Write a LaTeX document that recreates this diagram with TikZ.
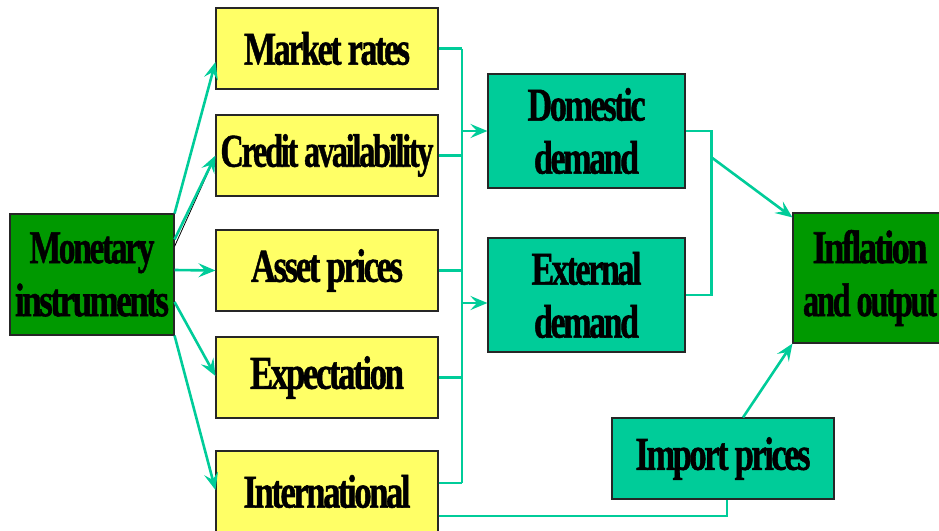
\documentclass[tikz,border=0pt]{standalone}
\usepackage{fontspec}
\usepackage{graphicx}
\setmainfont{Liberation Serif}
\newfontfamily\dtf[LetterSpace=-7,BoldFeatures={FakeBold=1.2}]{Liberation Serif}
\usetikzlibrary{arrows.meta,calc}
\definecolor{tealc}{HTML}{00CC99}
\definecolor{yel}{HTML}{FFFF66}
\definecolor{dgreen}{HTML}{009900}
\newcommand{\fw}[2]{\resizebox{#1pt}{\height}{\fontsize{47}{52}\selectfont\dtf\bfseries #2}}
\begin{document}
\begin{tikzpicture}[x=1pt,y=-1pt,
  box/.style={draw=black!85, line width=1.1pt, inner sep=0pt, align=center, font=\fontsize{46}{53}\selectfont},
  ybox/.style={box, fill=yel, minimum width=222pt, minimum height=81pt},
  tbox/.style={box, fill=tealc},
  gbox/.style={box, fill=dgreen},
  conn/.style={draw=tealc, line width=2.6pt},
  arr/.style={conn, -{Stealth[length=17pt,width=14pt,inset=6.5pt]}}]
\useasboundingbox (0,0) rectangle (939,530);
\clip (0,0) rectangle (939,530);

\node[gbox, minimum width=164pt, minimum height=121pt] (mon) at (92,274.5) {\fw{125}{Monetary}\\\fw{154}{instruments}};

\node[ybox] (mr) at (327,48.5) {\fw{166}{Market rates}};
\node[ybox] (ca) at (327,155.5) {\fw{213}{Credit availability}};
\node[ybox] (ap) at (327,270.5) {\fw{152}{Asset prices}};
\node[ybox] (ex) at (327,377.5) {\fw{154}{Expectation}};
\node[ybox] (in) at (327,491.5) {\fw{167}{International}};

\node[tbox, minimum width=197pt, minimum height=114pt] (dd) at (586.5,131) {\fw{118}{Domestic}\\\fw{105}{demand}};
\node[tbox, minimum width=197pt, minimum height=114pt] (ed) at (586.5,295) {\fw{110}{External}\\\fw{105}{demand}};

\node[gbox, minimum width=154pt, minimum height=130pt] (io) at (870,278) {\fw{115}{Inflation}\\\fw{134}{and output}};

\node[tbox, minimum width=222pt, minimum height=81pt] (ip) at (723,458.5) {\fw{175}{Import prices}};

% bus
\coordinate (bt) at (462,48.5);
\coordinate (bb) at (462,483);
\draw[conn] (bt) -- (bb);
\draw[conn] (mr.east) -- (mr.east -| bt);
\draw[conn] (ca.east) -- (ca.east -| bt);
\draw[conn] (ap.east) -- (ap.east -| bt);
\draw[conn] (ex.east) -- (ex.east -| bt);
\draw[conn] ($(in.east)+(0,-8.5)$) -- (bb);
\draw[arr] (dd.west -| bt) -- (dd.west);
\draw[arr] ($(ed.west -| bt)+(0,8)$) -- ($(ed.west)+(0,8)$);

% demand merge
\coordinate (mj) at (711,157);
\draw[conn] (dd.east) -- ++(26,0) |- (ed.east);
\draw[arr] (mj) -- ($(io.north west)+(0,5)$);

% import prices
\draw[arr] ($(ip.north)+(20,0)$) -- (io.south west);
\draw[conn] ($(in.east)+(0,24.5)$) -| ($(ip.south)+(4,0)$);

% monetary arrows
\draw[arr] (mon.north east) -- ($(mr.west)+(0,13.5)$);
\draw[black, line width=0.8pt] ($(mon.north east)+(0,33)$) -- ($(ca.west)+(-3,7)$);
\draw[arr] ($(mon.north east)+(0,26)$) -- (ca.west);
\draw[arr] (mon.east -| mon.north east) ++(0,-4.5) -- (ap.west);
\draw[arr] ($(mon.east)+(0,27.5)$) -- ($(ex.west)+(0,-1.5)$);
\draw[arr] (mon.south east) -- ($(in.west)+(0,-1.5)$);
\end{tikzpicture}
\end{document}
